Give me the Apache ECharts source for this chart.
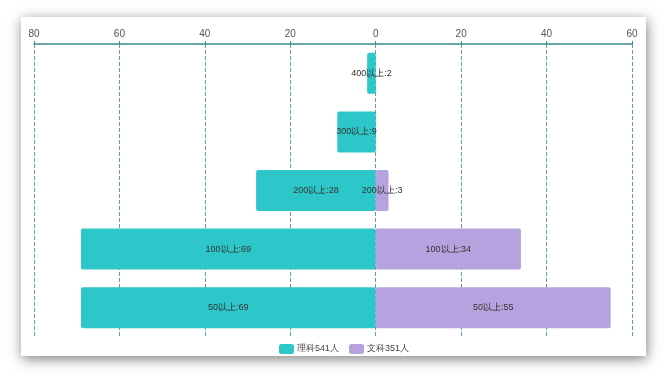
<!DOCTYPE html>
<html>
<head>
<meta charset="utf-8">
<script src="https://cdn.jsdelivr.net/npm/echarts@6/dist/echarts.min.js"></script>
<style>
html,body{margin:0;padding:0;background:#fff;width:668px;height:378px;overflow:hidden;}
#card{position:absolute;left:21px;top:17px;width:625px;height:339px;background:#fff;box-shadow:1px 3px 12px rgba(0,0,0,0.5);}
#chart{width:625px;height:339px;}
</style>
</head>
<body>
<div id="card"><div id="chart"></div></div>
<script>
const categories = ['400以上', '300以上', '200以上', '100以上', '50以上'];
const scienceValues = [2, 9, 28, 69, 69];
const artsValues = [0, 0, 3, 34, 55];
const seriesNames = ['理科541人', '文科351人'];
const axisMin = -80, axisMax = 60, axisInterval = 20;

const chart = echarts.init(document.getElementById('chart'));
const labelFmt = p => {
  const v = Math.abs(p.value);
  return v === 0 ? '' : p.name + ':' + v;
};
chart.setOption({
  animation: false,
  grid: {left: 13, right: 14, top: 27, bottom: 19},
  legend: {
    data: seriesNames,
    left: 258, top: 327, padding: 0,
    itemWidth: 15, itemHeight: 10, itemGap: 10,
    textStyle: {fontSize: 9, color: '#444', padding: [0, 0, 0, -2]}
  },
  xAxis: {
    type: 'value', position: 'top',
    min: axisMin, max: axisMax, interval: axisInterval,
    axisLine: {show: true, lineStyle: {color: '#3d8b90', width: 1.5}},
    axisTick: {show: true, length: 3, inside: false, lineStyle: {color: '#3d8b90'}},
    axisLabel: {color: '#555', fontSize: 10, margin: 5, formatter: v => Math.abs(v)},
    splitLine: {show: true, lineStyle: {color: '#5f9ea3', type: 'dashed'}}
  },
  yAxis: {
    type: 'category', data: categories, inverse: true,
    axisLine: {show: false}, axisTick: {show: false}, axisLabel: {show: false},
    splitLine: {show: false}
  },
  series: [
    {
      name: seriesNames[0], type: 'bar', stack: 'total', barWidth: '70%',
      data: scienceValues.map(v => -v),
      itemStyle: {color: '#2ec7c9', borderRadius: 2},
      label: {show: true, position: 'inside', fontSize: 9, color: '#333', formatter: labelFmt}
    },
    {
      name: seriesNames[1], type: 'bar', stack: 'total', barWidth: '70%',
      data: artsValues,
      itemStyle: {color: '#b6a2de', borderRadius: 2},
      label: {show: true, position: 'inside', fontSize: 9, color: '#333', formatter: labelFmt}
    }
  ]
});
</script>
</body>
</html>
